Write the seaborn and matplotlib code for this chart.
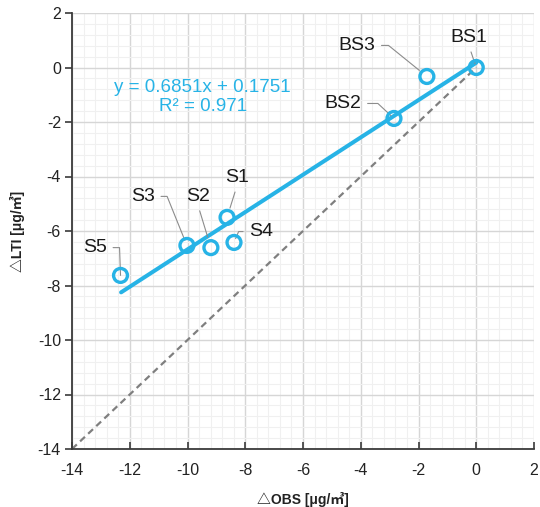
import matplotlib
matplotlib.use("Agg")
import matplotlib.pyplot as plt
import seaborn as sns
import pandas as pd
from matplotlib.ticker import MultipleLocator

# ---- data ----
sites = ["BS1", "BS2", "BS3", "S1", "S2", "S3", "S4", "S5"]
obs = [0.0, -2.85, -1.71, -8.63, -9.19, -10.02, -8.39, -12.32]
lti = [0.0, -1.87, -0.33, -5.50, -6.61, -6.53, -6.42, -7.63]

fit_slope = 0.6851
fit_intercept = 0.1751
fit_r2 = 0.971
fit_x = [-12.3, 0.0]
one_to_one = [-14.0, 0.0]

xticks = [-14, -12, -10, -8, -6, -4, -2, 0, 2]
yticks = [-14, -12, -10, -8, -6, -4, -2, 0, 2]

BLUE = "#27b3e6"

sns.set_theme(style="white")
plt.rcParams["font.family"] = ["Liberation Sans", "Noto Sans CJK SC", "DejaVu Sans"]
plt.rcParams["axes.unicode_minus"] = False

fig = plt.figure(figsize=(5.4, 5.07), dpi=100)
ax = fig.add_axes([72 / 540, 1 - 449 / 507, 462 / 540, 436 / 507])

df = pd.DataFrame({"site": sites, "obs": obs, "lti": lti})

# 1:1 line
sns.lineplot(x=one_to_one, y=one_to_one, ax=ax, color="#7f7f7f",
             linewidth=1.6, zorder=2)
ax.lines[-1].set_dashes((3, 2))

# regression line
fit_y = [fit_slope * v + fit_intercept for v in fit_x]
sns.lineplot(x=fit_x, y=fit_y, ax=ax, color=BLUE, linewidth=2.9, zorder=3)

# points
sns.scatterplot(data=df, x="obs", y="lti", ax=ax, marker="o", s=100,
                facecolors="none", edgecolor=BLUE, linewidth=2.4, zorder=5,
                legend=False)

# labels with leader lines: (text pos, relpos, connectionstyle, shrinkB)
label_style = {
    "BS1": ((-0.25, 1.10), (0.5, 0.0), "arc3", 3),
    "BS2": ((-4.61, -1.32), (1.0, 0.5), "angle,angleA=0,angleB=-43,rad=0", 3),
    "BS3": ((-4.13, 0.81), (1.0, 0.5), "angle,angleA=0,angleB=-39,rad=0", 7),
    "S1": ((-8.29, -4.04), (0.5, 0.0), "arc3", 7),
    "S2": ((-9.64, -4.73), (0.5, 0.0), "arc3", 8),
    "S3": ((-11.54, -4.73), (1.0, 0.5), "angle,angleA=0,angleB=-68,rad=0", 4),
    "S4": ((-7.45, -6.02), (0.0, 0.5), "angle,angleA=0,angleB=-113,rad=0", 3),
    "S5": ((-13.20, -6.61), (1.0, 0.5), "angle,angleA=0,angleB=-88,rad=0", 0),
}
for s, x, y in zip(sites, obs, lti):
    pos, rel, cs, shB = label_style[s]
    ax.annotate(s, xy=(x, y), xytext=pos, ha="center", va="center",
                fontsize=14, color="#1a1a1a", zorder=4,
                arrowprops=dict(arrowstyle="-", color="#8c8c8c", lw=0.8,
                                relpos=rel, connectionstyle=cs,
                                shrinkA=2, shrinkB=shB))

ax.text(-9.47, -1.08, f"y = {fit_slope}x + {fit_intercept}\nR² = {fit_r2}",
        ha="center", va="center", fontsize=13.5, color=BLUE,
        linespacing=1.15, zorder=4)

ax.set_xlim(-14, 2)
ax.set_ylim(-14, 2)
ax.set_xticks(xticks)
ax.set_yticks(yticks)
ax.xaxis.set_minor_locator(MultipleLocator(0.4))
ax.yaxis.set_minor_locator(MultipleLocator(0.4))
ax.grid(which="major", color="#d6d6d6", linewidth=1.0, zorder=0)
ax.grid(which="minor", color="#f0f0f0", linewidth=0.8, zorder=0)
ax.set_axisbelow(True)

for side in ["top", "right"]:
    ax.spines[side].set_visible(False)
for side in ["left", "bottom"]:
    ax.spines[side].set_visible(True)
    ax.spines[side].set_color("#3a3a3a")
    ax.spines[side].set_linewidth(1.3)

ax.tick_params(axis="x", which="major", direction="in", length=5, width=1.2,
               color="#3a3a3a", labelsize=11.5, labelcolor="#222222", pad=10,
               bottom=True)
ax.tick_params(axis="y", which="major", direction="out", length=5, width=1.2,
               color="#3a3a3a", labelsize=11.5, labelcolor="#222222", pad=3,
               left=True)
ax.tick_params(which="minor", length=0)

ax.set_xlabel("△OBS [μg/㎥]", fontsize=10, fontweight="bold", color="#222222",
              labelpad=10)
ax.set_ylabel("△LTI [μg/㎥]", fontsize=10, fontweight="bold", color="#222222",
              labelpad=9)

fig.savefig("out.png", dpi=100, facecolor="white")
